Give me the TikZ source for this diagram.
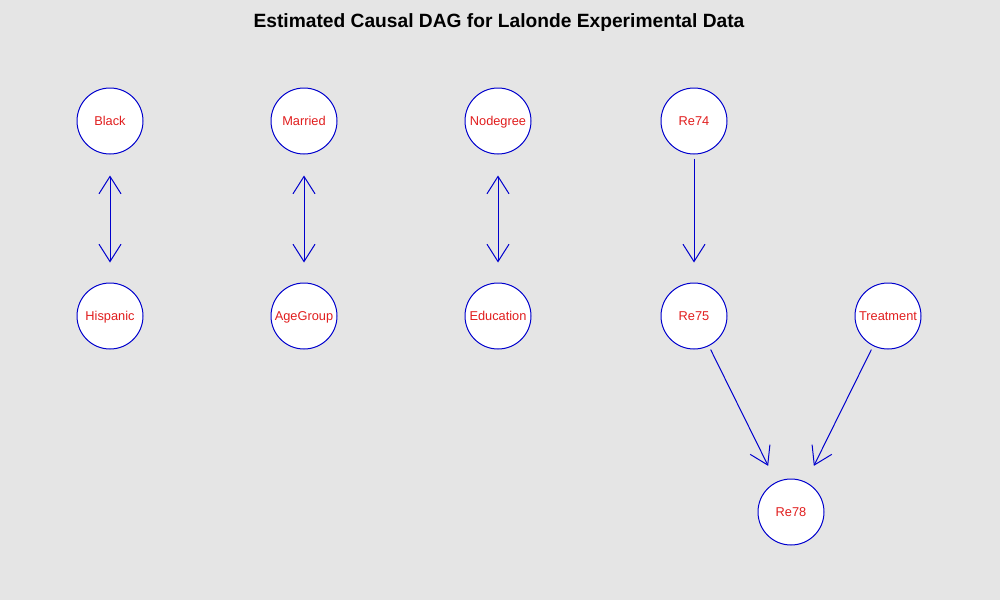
\documentclass[tikz,border=0pt]{standalone}
\usepackage{fontspec}
\setmainfont{Liberation Sans}
\usetikzlibrary{arrows.meta}
\definecolor{bg}{RGB}{229,229,229}
\definecolor{dagblue}{RGB}{0,0,205}
\definecolor{dagred}{RGB}{225,30,30}
\tikzset{barb/.tip={Straight Barb[length=13pt, width=16.5pt, line width=0.75pt]}}
\begin{document}
\begin{tikzpicture}[x=0.75pt,y=-0.75pt,
  var/.style={circle, minimum size=49.5pt, inner sep=0pt, draw=dagblue, line width=0.75pt, fill=white, text=dagred, text height=8pt, text depth=1.1pt, font=\fontsize{9.6}{11}\selectfont},
  edge/.style={draw=dagblue, line width=0.75pt},
  both/.style={edge, barb-barb, shorten <=15.75pt, shorten >=15pt},
  single/.style={edge, -barb, shorten <=3pt, shorten >=15pt},
  diag/.style={edge, -barb, shorten <=3pt, shorten >=13.5pt}]
\fill[bg] (0,0) rectangle (1000,600);
\useasboundingbox (0,0) rectangle (1000,600);
\node[font=\bfseries\fontsize{14.4}{17}\selectfont] (title) at (499,23) {Estimated Causal DAG for Lalonde Experimental Data};
\node[var] (black) at (110,121) {Black};
\node[var] (married) at (304,121) {Married};
\node[var] (nodegree) at (498,121) {Nodegree};
\node[var] (re74) at (694,121) {Re74};
\node[var] (hispanic) at (110,316) {Hispanic};
\node[var] (agegroup) at (304,316) {AgeGroup};
\node[var] (education) at (498,316) {Education};
\node[var] (re75) at (694,316) {Re75};
\node[var] (treatment) at (888,316) {Treatment};
\node[var] (re78) at (791,512) {Re78};
\draw[both] (black) -- (hispanic);
\draw[both] (married) -- (agegroup);
\draw[both] (nodegree) -- (education);
\draw[single] (re74) -- (re75);
\draw[diag] (re75) -- (re78);
\draw[diag] (treatment) -- (re78);
\end{tikzpicture}
\end{document}
